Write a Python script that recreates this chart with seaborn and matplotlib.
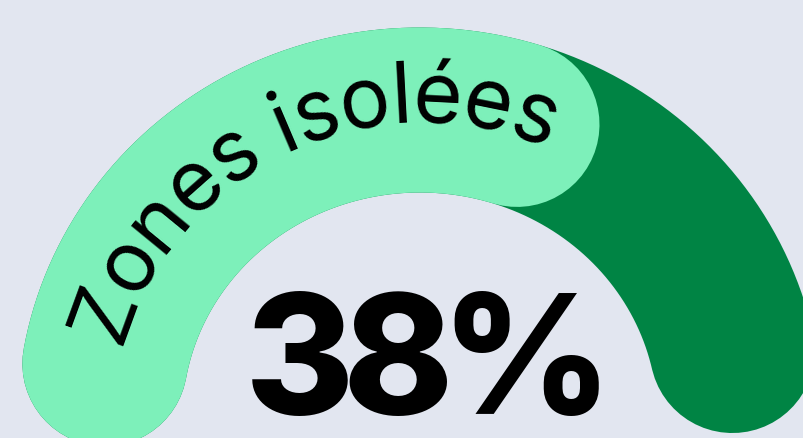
import numpy as np
import pandas as pd
import matplotlib
matplotlib.use("Agg")
import matplotlib.pyplot as plt
import seaborn as sns
from matplotlib.font_manager import FontProperties

# ---- data ----
segments = ["Zones isolées", "Autres"]
shares = [62, 38]
headline = "38%"
arc_label = "Zones isolées"

# ---- style ----
BG = "#E2E6F0"
LIGHT = "#7DF0BA"
DARK = "#008444"

sns.set_theme(style="white", rc={"figure.facecolor": BG, "axes.facecolor": BG})
plt.rcParams['font.family'] = ['Inter', 'DejaVu Sans']

W, H = 804, 439
fig = plt.figure(figsize=(W / 100, H / 100), dpi=100)
ax = fig.add_axes([0, 0, 1, 1])

# gauge geometry (pixel space)
CX, CY, A, B = 420, 418, 320, 307
T0, T1 = 170.0, 12.5
BAND = 165
LW = BAND * 72 / 100


def arc_df(f0, f1, n=400):
    t = np.radians(T0 - np.linspace(f0, f1, n) * (T0 - T1))
    return pd.DataFrame({"x": CX + A * np.cos(t), "y": CY - B * np.sin(t)})


total = sum(shares)
sns.lineplot(data=arc_df(0, 1), x="x", y="y", sort=False, estimator=None,
             color=DARK, lw=LW, ax=ax)
sns.lineplot(data=arc_df(0, shares[0] / total), x="x", y="y", sort=False,
             estimator=None, color=LIGHT, lw=LW, ax=ax)
for ln in ax.lines:
    ln.set_solid_capstyle("round")

ax.set_xlim(0, W)
ax.set_ylim(H, 0)
ax.axis("off")

# ---- curved label ----
fig.canvas.draw()
renderer = fig.canvas.get_renderer()
fp = FontProperties(family=['Inter', 'DejaVu Sans'], size=61)


def tw(s):
    if not s:
        return 0.0
    return renderer.get_text_width_height_descent(s, fp, ismath=False)[0]


D = 11
TRACK = 0.965
at, bt = A - D, B - D
tt = np.radians(np.linspace(180, 0, 6000))
bx = CX + at * np.cos(tt)
by = CY - bt * np.sin(tt)
sl = np.concatenate([[0], np.cumsum(np.hypot(np.diff(bx), np.diff(by)))])
TC = 115.2
s_c = np.interp(TC, np.degrees(tt)[::-1], sl[::-1])
L = tw(arc_label)
for i, ch in enumerate(arc_label):
    p = tw(arc_label[:i])
    cw = tw(arc_label[:i + 1]) - p
    pos = s_c + (p + cw / 2 - L / 2) * TRACK
    x = np.interp(pos, sl, bx)
    y = np.interp(pos, sl, by)
    x2 = np.interp(pos + 1, sl, bx)
    y2 = np.interp(pos + 1, sl, by)
    rot = np.degrees(np.arctan2(-(y2 - y), x2 - x))
    ax.text(x, y, ch, fontproperties=fp, rotation=rot, rotation_mode="anchor",
            ha="center", va="baseline", color="black")

# ---- headline (glyphs set tight, as in the reference) ----
hp = FontProperties(family=['Inter', 'DejaVu Sans'], size=120, weight=800)
glyph_x = [300, 398, 526]
for gx, ch in zip(glyph_x, headline):
    ax.text(gx, 414, ch, fontproperties=hp, ha="center", va="baseline",
            color="black")

fig.savefig("out.png", dpi=100, facecolor=BG)
